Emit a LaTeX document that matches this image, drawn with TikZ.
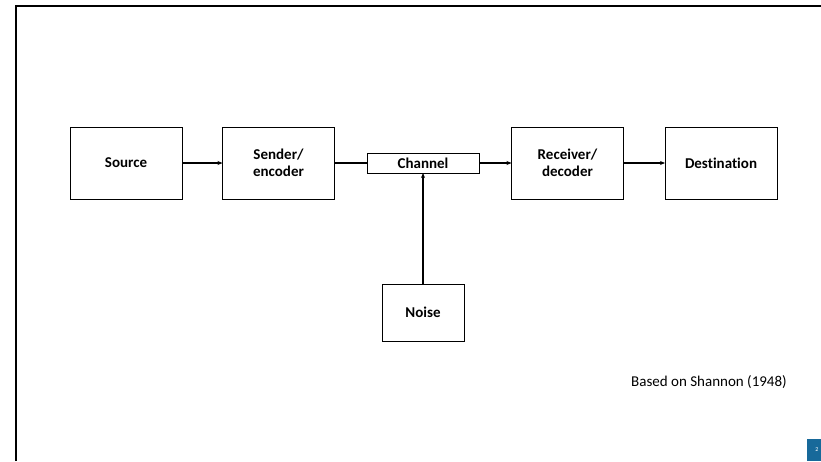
\documentclass[tikz,border=0pt]{standalone}
\usepackage{fontspec}
\setmainfont{Carlito}[Ligatures=CommonOff]
\usetikzlibrary{positioning,arrows.meta}
\definecolor{slideblue}{HTML}{17699A}
\tikzset{
  block/.style={draw, line width=1pt, minimum width=112pt, minimum height=72pt,
    inner sep=0pt, outer sep=0pt, align=center, font=\bfseries\fontsize{15}{17.5}\selectfont},
}

\begin{document}
\begin{tikzpicture}[x=1pt, y=-1pt, ->, >={Stealth[length=5pt,width=4pt]}, line width=1.1pt, node distance=40.5pt]
    \useasboundingbox (0,0) rectangle (821,461);
    \draw [-, line width=2pt] (16,461) -- (16,6) -- (821,6);
    \node (source) [block] at (126,163) {Source};
    \node (sender) [block, right=of source] {Sender/\\encoder} edge [<-] (source);
    \node (channel) [block, minimum height=20pt, right=32.5pt of sender] {Channel} edge [-] (sender);
    \node (receiver) [block, right=32.5pt of channel] {Receiver/\\decoder} edge [<-] (channel);
    \node (dest) [block, right=41.5pt of receiver] {Destination} edge [<-] (receiver);
    \node (noise) [block, minimum width=82pt, minimum height=57pt, below=111pt of channel] {Noise}
      edge (channel);
    \node (based) [font=\fontsize{15}{17}\selectfont] at (709,382) {Based on Shannon (1948)};
    \fill [slideblue] (807,439) rectangle (821,461);
    \node (page) [text=white, inner sep=0pt, font=\fontsize{6}{6}\selectfont] at (817,450) {2};
  \end{tikzpicture}
\end{document}
